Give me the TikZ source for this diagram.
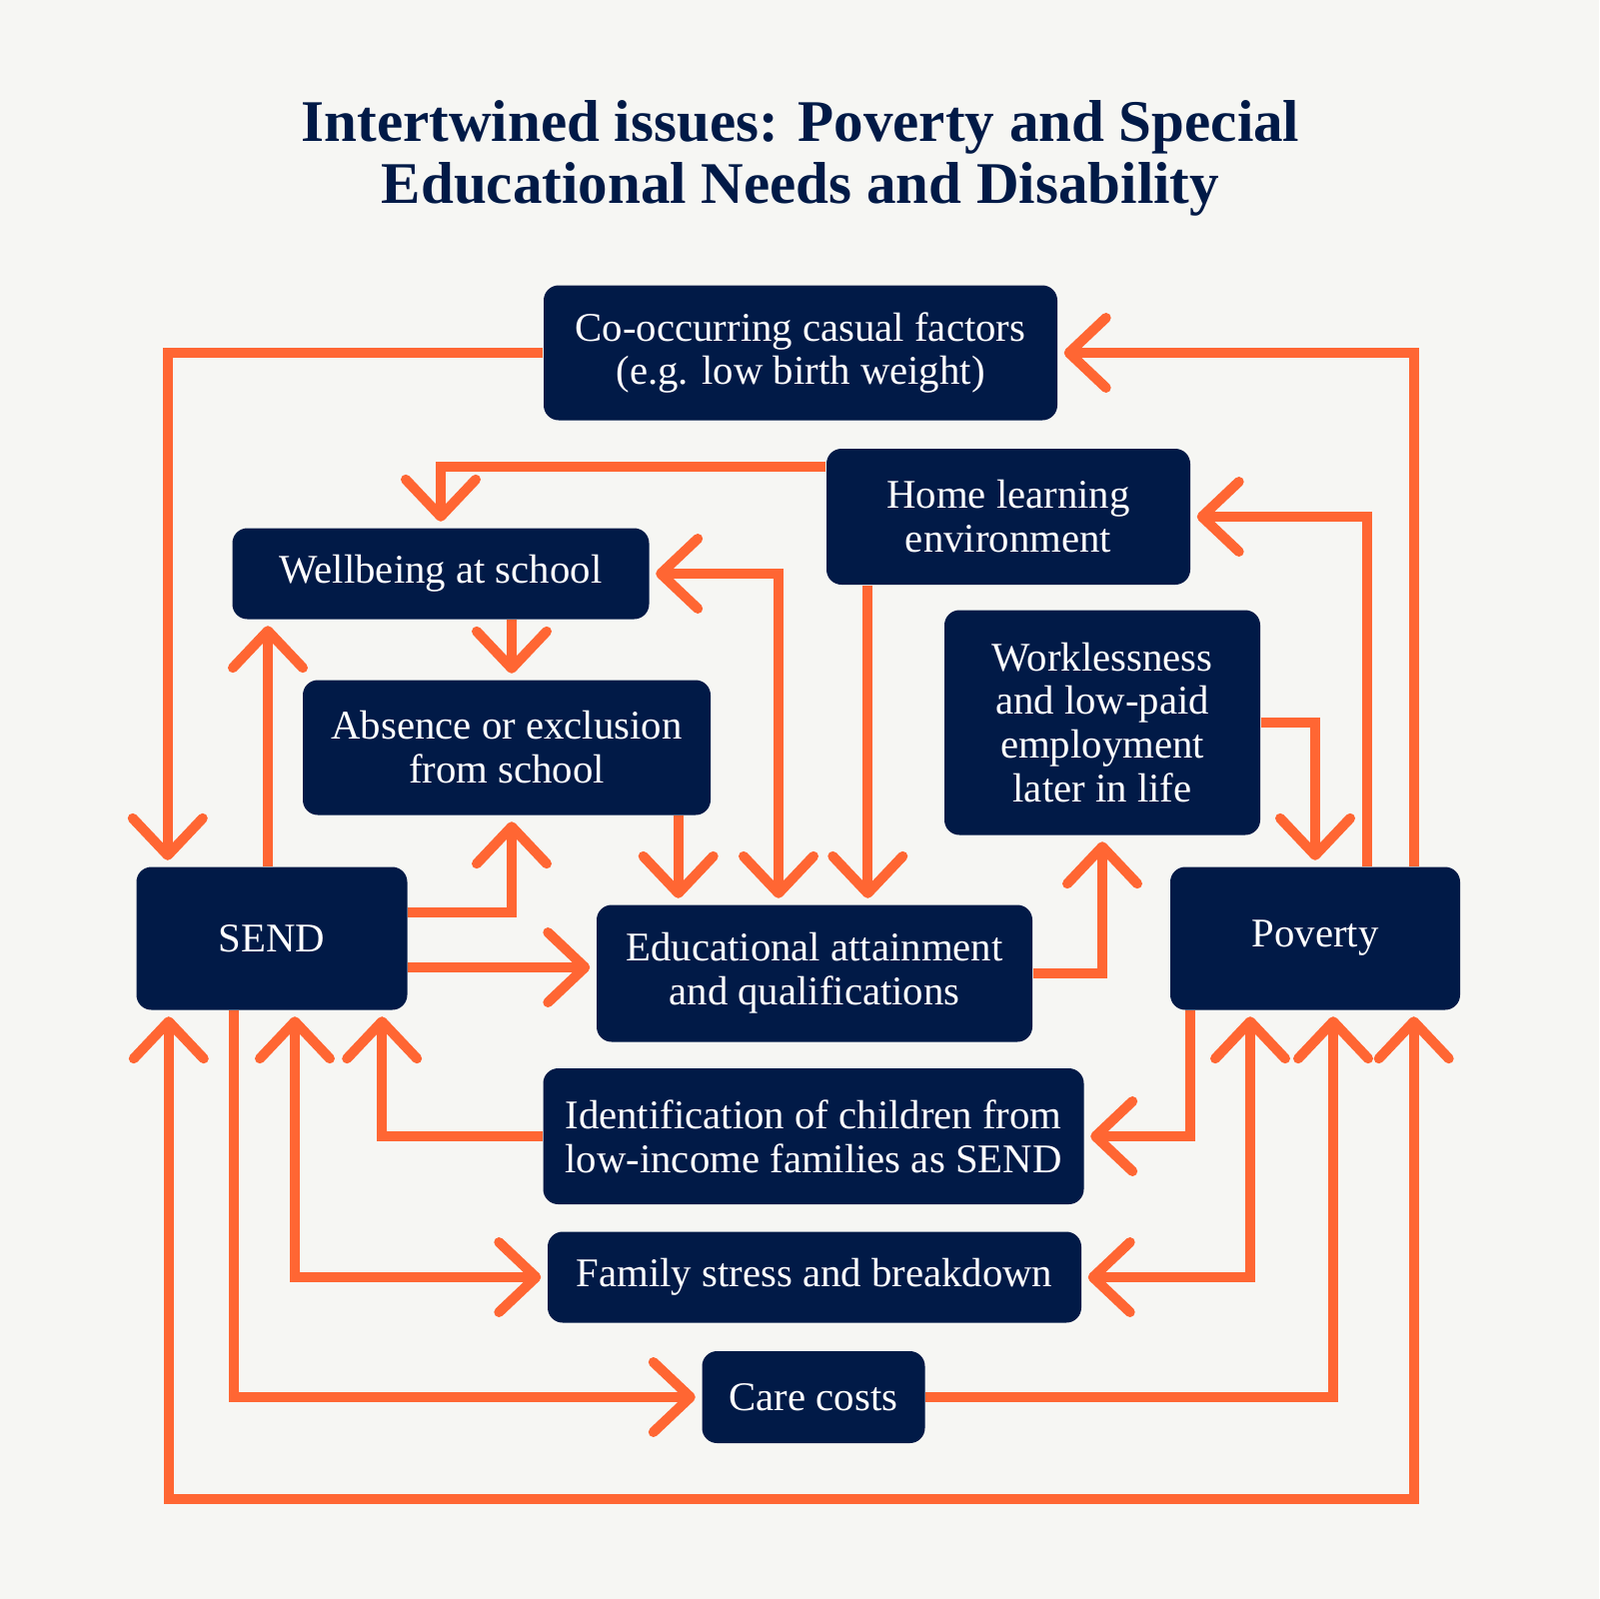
\documentclass[tikz,border=0pt]{standalone}
\usepackage{fontspec}
\setmainfont{Liberation Serif}
\usepackage{xcolor}
\usepackage{tikz}
\usetikzlibrary{arrows.meta, positioning}

\definecolor{navy}{HTML}{011A47}
\definecolor{orng}{HTML}{FF6633}
\definecolor{paper}{HTML}{F6F6F3}

\begin{document}
\begin{tikzpicture}[
    box/.style={fill=navy, text=white, align=center,
                inner sep=0pt, rounded corners=1.5mm,
                font=\fontsize{11.6}{12.5}\selectfont},
    >={Straight Barb[length=3.7mm, width=7mm, round]},
    arr/.style={->, draw=orng, line width=1mm, shorten >=0.6mm},
    dbl/.style={<->, draw=orng, line width=1mm, shorten >=0.6mm, shorten <=0.6mm},
    x=0.1mm, y=-0.1mm
  ]
  \fill[paper] (0,0) rectangle (1600,1600);

  % Title
  \node[text=navy, align=center, font=\bfseries\fontsize{16.8}{17.6}\selectfont]
    (title) at (801,158) {Intertwined issues: Poverty and Special\\Educational Needs and Disability};

  % Boxes, top to bottom
  \node[box, minimum width=51.4mm, minimum height=13.5mm] (cof) at (801,353)
    {Co-occurring casual factors\\(e.g. low birth weight)};
  \node[box, minimum width=36.4mm, minimum height=13.6mm] (home) at (1009,517)
    {Home learning\\environment};
  \node[box, minimum width=41.7mm, minimum height=9.1mm] (well) at (441,574)
    {Wellbeing at school};
  \node[box, minimum width=40.8mm, minimum height=13.5mm] (abs) at (507,748)
    {Absence or exclusion\\from school};
  \node[box, minimum width=31.6mm, minimum height=22.5mm] (work) at (1103,723)
    {Worklessness\\and low-paid\\employment\\later in life};
  \node[box, minimum width=27.1mm, minimum height=14.3mm] (send) at (272,939)
    {SEND};
  \node[box, minimum width=43.6mm, minimum height=13.7mm] (edu) at (815,974)
    {Educational attainment\\and qualifications};
  \node[box, minimum width=29mm, minimum height=14.3mm] (pov) at (1316,939)
    {Poverty};
  \node[box, minimum width=54.1mm, minimum height=13.6mm] (ident) at (814,1137)
    {Identification of children from\\low-income families as SEND};
  \node[box, minimum width=53.4mm, minimum height=9.1mm] (fam) at (815,1278)
    {Family stress and breakdown};
  \node[box, minimum width=22.3mm, minimum height=9.2mm] (care) at (814,1398)
    {Care costs};
  \coordinate (loop) at (800,1500);

  % Upper links
  \draw[arr] (cof.west) -| ([xshift=3.2mm]send.north west);
  \draw[arr] ([xshift=-4.7mm]pov.north east) |- (cof.east);
  \draw[arr] ([xshift=-9.4mm]pov.north east) |- (home.east);
  \draw[arr] ([yshift=-1.9mm]home.north west) -| (well.north);
  \draw[arr] ([xshift=7.1mm]well.south) -- ([xshift=7.1mm]well.south |- abs.north);
  \draw[arr] ([xshift=-0.4mm]send.north) -- ([xshift=-0.4mm]send.north |- well.south);
  \draw[arr] ([yshift=-4.6mm]send.north east) -| ([xshift=0.5mm]abs.south);
  \draw[arr] ([yshift=0.6mm]edu.west -| send.east) -- ([yshift=0.6mm]edu.west);
  \draw[arr] ([xshift=-3.3mm]abs.south east) -- ([xshift=-3.3mm]abs.south east |- edu.north);
  \draw[dbl] (well.east) -| ([xshift=-3.6mm]edu.north);
  \draw[arr] ([xshift=4.2mm]home.south west) -- ([xshift=4.2mm]home.south west |- edu.north);
  \draw[arr] (edu.east) -| (work.south);
  \draw[arr] (work.east) -| (pov.north);

  % Lower links
  \draw[arr] ([xshift=2.1mm]pov.south west) |- (ident.east);
  \draw[arr] (ident.west) -| ([xshift=-2.6mm]send.south east);
  \draw[dbl] ([xshift=2.3mm]send.south) |- (fam.west);
  \draw[dbl] ([xshift=-6.5mm]pov.south) |- (fam.east);
  \draw[arr] ([xshift=-3.8mm]send.south) |- (care.west);
  \draw[arr] (care.east) -| ([xshift=1.8mm]pov.south);
  \draw[dbl] ([xshift=3.3mm]send.south west) |- (loop) -| ([xshift=-4.7mm]pov.south east);
\end{tikzpicture}
\end{document}
